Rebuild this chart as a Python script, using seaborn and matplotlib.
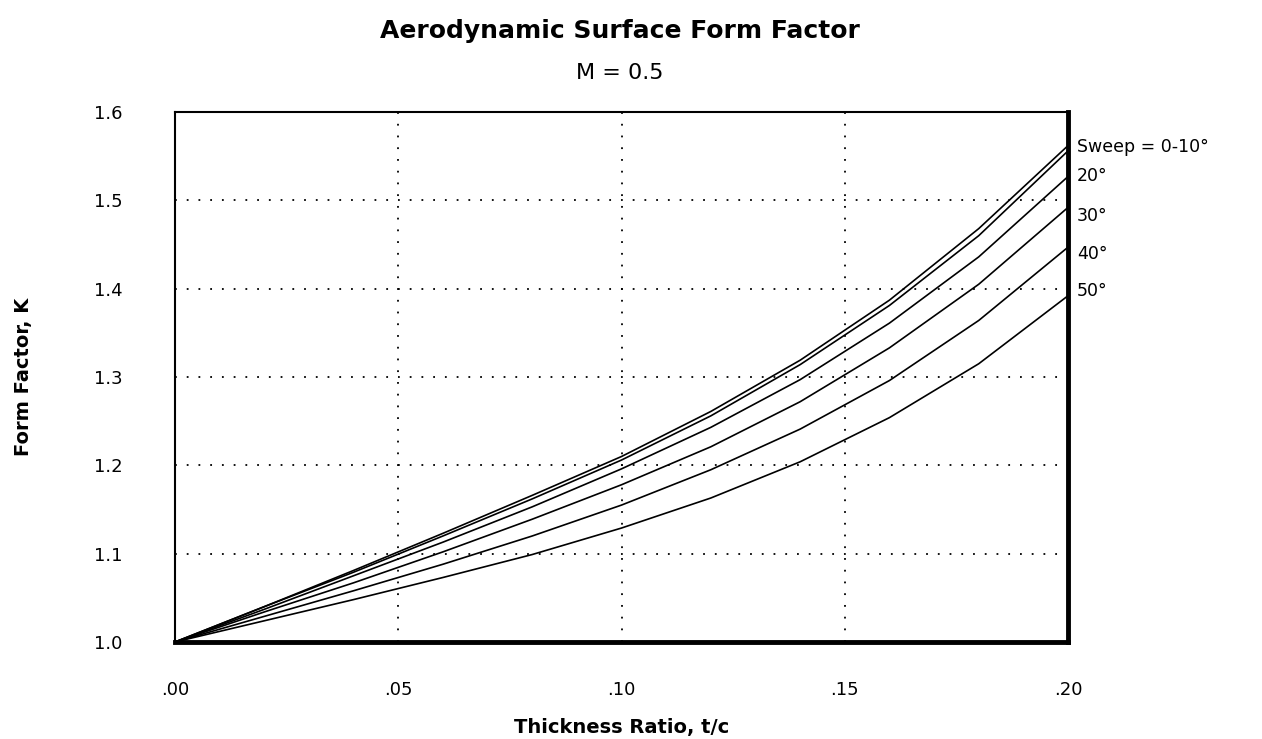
import numpy as np
import pandas as pd
import matplotlib
matplotlib.use("Agg")
import matplotlib.pyplot as plt
import seaborn as sns

# Thickness ratio t/c
thickness = [0.00, 0.02, 0.04, 0.06, 0.08, 0.10, 0.12, 0.14, 0.16, 0.18, 0.20]

# Form factor K for each sweep angle
k_sweep_0 = [1.000, 1.040, 1.081, 1.123, 1.166, 1.210, 1.261, 1.319, 1.387, 1.468, 1.562]
k_sweep_10 = [1.000, 1.040, 1.079, 1.120, 1.162, 1.206, 1.256, 1.314, 1.381, 1.460, 1.556]
k_sweep_20 = [1.000, 1.037, 1.075, 1.113, 1.153, 1.196, 1.243, 1.297, 1.361, 1.436, 1.527]
k_sweep_30 = [1.000, 1.034, 1.067, 1.102, 1.139, 1.178, 1.221, 1.272, 1.333, 1.405, 1.492]
k_sweep_40 = [1.000, 1.029, 1.058, 1.088, 1.120, 1.155, 1.195, 1.241, 1.296, 1.364, 1.447]
k_sweep_50 = [1.000, 1.024, 1.048, 1.073, 1.099, 1.129, 1.163, 1.204, 1.254, 1.315, 1.392]

sweeps = ["0", "10", "20", "30", "40", "50"]
curve_labels = ["Sweep = 0-10°", "20°", "30°", "40°", "50°"]

x_ticks = [0.00, 0.05, 0.10, 0.15, 0.20]
x_tick_labels = [".00", ".05", ".10", ".15", ".20"]
y_ticks = [1.0, 1.1, 1.2, 1.3, 1.4, 1.5, 1.6]
y_tick_labels = ["1.0", "1.1", "1.2", "1.3", "1.4", "1.5", "1.6"]

series = [k_sweep_0, k_sweep_10, k_sweep_20, k_sweep_30, k_sweep_40, k_sweep_50]
frames = []
for s, vals in zip(sweeps, series):
    frames.append(pd.DataFrame({"t/c": thickness, "K": vals, "sweep": s}))
df = pd.concat(frames, ignore_index=True)

sns.set_theme(style="white")
plt.rcParams['font.family'] = ['DejaVu Sans']
plt.rcParams['text.color'] = 'black'
plt.rcParams['axes.labelcolor'] = 'black'

fig = plt.figure(figsize=(12.62, 7.39), dpi=100)
ax = fig.add_axes([0.1387, 0.1313, 0.8463 - 0.1387, 0.8484 - 0.1313])

sns.lineplot(data=df, x="t/c", y="K", hue="sweep", palette=["black"] * 6,
             linewidth=1.2, legend=False, ax=ax, sort=False)

ax.set_xlim(0, 0.20)
ax.set_ylim(1.0, 1.6)
ax.set_xticks(x_ticks)
ax.set_xticklabels(x_tick_labels)
ax.set_yticks(y_ticks)
ax.set_yticklabels(y_tick_labels)
ax.tick_params(axis="both", length=0, labelsize=13, colors="black")
ax.tick_params(axis="x", pad=28)
ax.tick_params(axis="y", pad=38)

ax.grid(True, color="black", linestyle=(0, (1, 5.5)), linewidth=1.3)

for side in ["left", "top"]:
    ax.spines[side].set_linewidth(1.5)
    ax.spines[side].set_color("black")
for side in ["right", "bottom"]:
    ax.spines[side].set_linewidth(3.5)
    ax.spines[side].set_color("black")

ax.set_xlabel("Thickness Ratio, t/c", fontsize=14, fontweight="bold", labelpad=14)
ax.set_ylabel("Form Factor, K", fontsize=14, fontweight="bold", labelpad=44)

fig.text(0.491, 0.958, "Aerodynamic Surface Form Factor", ha="center", va="center",
         fontsize=18, fontweight="bold")
fig.text(0.491, 0.901, "M = 0.5", ha="center", va="center", fontsize=16)

label_y = [1.560, 1.528, 1.482, 1.439, 1.397]
for txt, yv in zip(curve_labels, label_y):
    ax.text(1.010, (yv - 1.0) / 0.6, txt, transform=ax.transAxes, ha="left",
            va="center", fontsize=12.5, clip_on=False)

fig.savefig("out.png", dpi=100, facecolor="white")
